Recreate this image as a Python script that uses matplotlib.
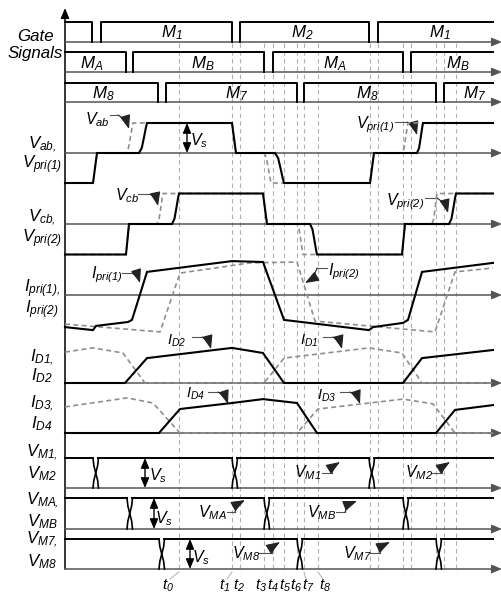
import numpy as np
import matplotlib
matplotlib.use('Agg')
import matplotlib.pyplot as plt

plt.rcParams['font.family'] = ['Liberation Sans', 'DejaVu Sans']
plt.rcParams['mathtext.fontset'] = 'custom'
plt.rcParams['mathtext.it'] = 'Liberation Sans:italic'
plt.rcParams['mathtext.rm'] = 'Liberation Sans:italic'
plt.rcParams['mathtext.default'] = 'it'

# ---------------------------------------------------------------- data
T_END = 428

# gate pulses (on, off); None = still on at the end of the window
GATE_M12 = [(0, 27), (36, 167), (175, 304), (313, None)]
GATE_MAB = [(0, 61), (68, 199), (208, 338), (346, None)]
GATE_M78 = [(0, 93), (101, 232), (239, 371), (379, None)]
GATE_NAMES = {
    'M12': ['$M_1$', '$M_2$', '$M_1$'],
    'MAB': ['$M_A$', '$M_B$', '$M_A$', '$M_B$'],
    'M78': ['$M_8$', '$M_7$', '$M_8$', '$M_7$'],
}

# voltages in units of Vs; third field 'r' = rounded (resonant) edge
V_AB = [(0, -1), (28, -1), (32, 0), (74, 0), (82, 1, 'r'), (167, 1), (171, 0),
        (210, 0), (219, -1, 'r'), (305, -1), (309, 0), (352, 0), (358, 1, 'r'), (428, 1)]
V_PRI1 = [(0, -1), (28, -1), (32, 0), (61, 0), (68, 1, 'r'), (167, 1), (171, 0),
          (199, 0), (206, -1, 'r'), (305, -1), (309, 0), (337, 0), (343, 1, 'r'), (428, 1)]
V_CB = [(0, -1), (61, -1), (64, 0), (107, 0), (114, 1, 'r'), (198, 1), (202, 0),
        (245, 0), (252, -1, 'r'), (337, -1), (340, 0), (384, 0), (391, 1, 'r'), (428, 1)]
V_PRI2 = [(0, -1), (61, -1), (64, 0), (92, 0), (98, 1, 'r'), (198, 1), (202, 0),
          (232, 0), (238, -1, 'r'), (337, -1), (340, 0), (367, 0), (372, 1, 'r'), (428, 1)]

# currents (normalised)
I_PRI1 = [(0, -1.07), (28, -1.17), (31, -1.03), (63, -0.9), (67, -0.83), (82, 0.77),
          (167, 1.13), (198, 1.1), (219, -0.83), (304, -1.17), (308, -1.07),
          (338, -0.93), (343, -0.83), (357, 0.77), (428, 1.07)]
I_PRI2 = [(0, -0.97), (95, -1.23), (115, 0.73), (185, 1.07), (232, 1.1),
          (250, -0.87), (370, -1.23), (390, 0.77), (428, 0.9)]
I_D2 = [(0, 0), (60, 0), (82, 0.83), (167, 1.17), (198, 1.0), (219, 0),
        (338, 0), (357, 0.83), (428, 1.1)]
I_D1 = [(0, 1.03), (28, 1.17), (58, 1.0), (80, 0), (199, 0), (219, 0.83),
        (304, 1.17), (337, 1.0), (357, 0), (428, 0)]
I_D4 = [(0, 0), (94, 0), (115, 0.8), (167, 1.0), (198, 1.13), (232, 1.0),
        (252, 0), (371, 0), (390, 0.77), (428, 0.93)]
I_D3 = [(0, 0.87), (62, 1.17), (88, 1.0), (115, 0), (232, 0), (253, 0.8),
        (338, 1.13), (368, 0.97), (390, 0), (428, 0)]

# switch voltage commutation instants
VM12_SW = [28, 167, 304]
VMAB_SW = [62, 199, 338]
VM78_SW = [94, 232, 371]
SW_WIDTH = 5.5

T_MARKS = [114, 167, 175, 199, 208, 219, 232, 239, 253]
T_NAMES = ['$t_0$', '$t_1$', '$t_2$', '$t_3$', '$t_4$', '$t_5$', '$t_6$', '$t_7$', '$t_8$']
T_MARKS_NEXT = [305, 313, 338, 346, 371, 379, 391]

# shape of a rounded edge (fraction of time, fraction of step)
EDGE_SHAPE = [(0.0, 0.0), (0.35, 0.17), (0.63, 0.53), (0.85, 0.83), (1.0, 1.0)]
X_SHAPE = [(0.0, 0.0), (0.15, 0.25), (0.5, 0.5), (0.85, 0.75), (1.0, 1.0)]

# ---------------------------------------------------------------- layout
ROW = {  # baseline, height of one unit
    'M12': (42, 20), 'MAB': (72, 20), 'M78': (102, 19.5),
    'VAB': (153, 30), 'VCB': (224, 30.5), 'IPRI': (295, 30),
    'ID12': (383, 30), 'ID34': (433, 30),
    'VM12': (488, 30), 'VMAB': (529, 31), 'VM78': (569, 30),
}
SOLID = dict(color='black', lw=1.5, solid_joinstyle='miter', zorder=5)
DASHED = dict(color='#8f8f8f', lw=1.2, ls=(0, (3, 2)), zorder=4)
AXIS_C = '#555555'
FS_ROW = 12.2
FS_NOTE = 11.5
FS_NOTE_SMALL = 10.5

fig = plt.figure(figsize=(5.02, 5.94), dpi=100)
ax = fig.add_axes([0, 0, 1, 1])
ax.set_xlim(-65, 437)
ax.set_ylim(594, 0)
ax.axis('off')


def expand(points):
    ts, vs = [], []
    for p in points:
        if len(p) == 3 and ts:
            t0, v0 = ts[-1], vs[-1]
            for fx, fy in EDGE_SHAPE[1:-1]:
                ts.append(t0 + (p[0] - t0) * fx)
                vs.append(v0 + (p[1] - v0) * fy)
        ts.append(p[0])
        vs.append(p[1])
    return np.array(ts, float), np.array(vs, float)


def wave(row, points, style):
    base, unit = ROW[row]
    t, v = expand(points)
    ax.plot(t, base - unit * v, **style)


def gate(row, pulses):
    base, unit = ROW[row]
    top = base - unit
    for on, off in pulses:
        end = T_END if off is None else off
        xs = [on, on, end] if on > 0 else [on, end]
        ys = [base, top, top] if on > 0 else [top, top]
        if off is not None:
            xs.append(end)
            ys.append(base)
        ax.plot(xs, ys, color='black', lw=1.4, zorder=5)


def switch_row(row, instants):
    base, unit = ROW[row]
    top = base - unit
    starts = [0] + [s + SW_WIDTH for s in instants]
    ends = instants + [T_END]
    for a, b in zip(starts, ends):
        ax.plot([a, b], [top, top], color='black', lw=1.4, zorder=5)
    fx = np.array([p[0] for p in X_SHAPE])
    fy = np.array([p[1] for p in X_SHAPE])
    for s in instants:
        ax.plot(s + SW_WIDTH * fx, top + unit * fy, color='black', lw=1.2, zorder=5)
        ax.plot(s + SW_WIDTH * fx, base - unit * fy, color='black', lw=1.2, zorder=5)


def h_axis(y):
    ax.annotate('', xy=(437, y), xytext=(0, y),
                arrowprops=dict(arrowstyle='-|>,head_length=0.6,head_width=0.25',
                                color=AXIS_C, lw=1.1, shrinkA=0, shrinkB=0), zorder=3)


def leader(text, pos, bend, tip, fs=FS_NOTE):
    ax.text(pos[0], pos[1], text, fontsize=fs, ha='center', va='baseline', zorder=6)
    ax.plot([bend[0][0], bend[1][0]], [bend[0][1], bend[1][1]], color='#555555', lw=0.8)
    ax.annotate('', xy=tip, xytext=bend[1],
                arrowprops=dict(arrowstyle='-|>,head_length=0.85,head_width=0.32',
                                color='#222222', lw=0.8, shrinkA=0, shrinkB=0,
                                connectionstyle='arc3,rad=-0.2'))


def vs_arrow(t, top, bottom, label_x, label_y):
    ax.annotate('', xy=(t, top), xytext=(t, bottom),
                arrowprops=dict(arrowstyle='<|-|>,head_length=0.6,head_width=0.25',
                                color='black', lw=1.0, shrinkA=0, shrinkB=0))
    ax.text(label_x, label_y, '$V_s$', fontsize=FS_NOTE, ha='center', va='baseline')


# time markers
ax.vlines(T_MARKS + T_MARKS_NEXT, 43, 572, colors='#b0b0b0', lw=0.8,
          linestyles=(0, (4, 3)), zorder=1)

# axes
ax.annotate('', xy=(0, 8), xytext=(0, 569),
            arrowprops=dict(arrowstyle='-|>,head_length=0.6,head_width=0.25',
                            color='black', lw=1.1, shrinkA=0, shrinkB=0), zorder=3)
for key in ROW:
    h_axis(ROW[key][0])

# gate signals
for key, pulses in (('M12', GATE_M12), ('MAB', GATE_MAB), ('M78', GATE_M78)):
    gate(key, pulses)
name_pos = {
    'M12': ([107, 237, 375], 37),
    'MAB': ([27, 138, 270, 393], 68),
    'M78': ([38, 172, 302, 410], 98),
}
for key, (xs, y) in name_pos.items():
    for x, n in zip(xs, GATE_NAMES[key]):
        ax.text(x, y, n, fontsize=FS_ROW, ha='center', va='baseline')
ax.text(-30, 41, 'Gate', fontsize=FS_ROW, style='italic', ha='center', va='baseline')
ax.text(-30, 58, 'Signals', fontsize=FS_ROW, style='italic', ha='center', va='baseline')

# voltages and currents
wave('VAB', V_PRI1, DASHED)
wave('VAB', V_AB, SOLID)
wave('VCB', V_PRI2, DASHED)
wave('VCB', V_CB, SOLID)
wave('IPRI', I_PRI2, DASHED)
wave('IPRI', I_PRI1, SOLID)
wave('ID12', I_D1, DASHED)
wave('ID12', I_D2, SOLID)
wave('ID34', I_D3, DASHED)
wave('ID34', I_D4, SOLID)

switch_row('VM12', VM12_SW)
switch_row('VMAB', VMAB_SW)
switch_row('VM78', VM78_SW)

# Vs markers
vs_arrow(122, ROW['VAB'][0] - ROW['VAB'][1], ROW['VAB'][0], 134, 145)
for key, t, lx, ly in (('VM12', 80, 93, 480), ('VMAB', 89, 99, 523), ('VM78', 125, 136, 562)):
    b, u = ROW[key]
    vs_arrow(t, b - u, b, lx, ly)

# row labels (text, baseline)
row_labels = [
    ('$V_{ab,}$', 149), ('$V_{pri(1)}$', 168), ('$V_{cb,}$', 222), ('$V_{pri(2)}$', 242),
    ('$I_{pri(1),}$', 292), ('$I_{pri(2)}$', 313), ('$I_{D1,}$', 362), ('$I_{D2}$', 380),
    ('$I_{D3,}$', 408), ('$I_{D4}$', 428), ('$V_{M1,}$', 457), ('$V_{M2}$', 478),
    ('$V_{MA,}$', 505), ('$V_{MB}$', 526), ('$V_{M7,}$', 544), ('$V_{M8}$', 566),
]
for text, y in row_labels:
    ax.text(-23, y, text, fontsize=FS_ROW, ha='center', va='baseline')

# waveform call-outs
leader('$V_{ab}$', (32, 124), [(45, 115), (53, 115)], (64, 129))
leader('$V_{pri(1)}$', (310, 128), [(330, 122), (342, 122)], (352, 135))
leader('$V_{cb}$', (62, 200), [(73, 194), (85, 194)], (93, 206))
leader('$V_{pri(2)}$', (340, 205), [(360, 198), (372, 198)], (383, 213))
leader('$I_{pri(1)}$', (42, 278), [(57, 273), (67, 273)], (75, 283))
leader('$I_{pri(2)}$', (279, 275), [(262, 268), (252, 268)], (240, 283))
leader('$I_{D2}$', (112, 345), [(127, 337), (137, 337)], (146, 349), FS_NOTE_SMALL)
leader('$I_{D1}$', (244, 345), [(258, 337), (268, 337)], (277, 349), FS_NOTE_SMALL)
leader('$I_{D4}$', (130, 398), [(143, 392), (153, 392)], (163, 404), FS_NOTE_SMALL)
leader('$I_{D3}$', (262, 400), [(275, 392), (285, 392)], (295, 404), FS_NOTE_SMALL)
leader('$V_{M1}$', (243, 477), [(257, 473), (267, 473)], (275, 462))
leader('$V_{M2}$', (354, 477), [(367, 473), (377, 473)], (385, 462))
leader('$V_{MA}$', (147, 517), [(162, 512), (170, 512)], (180, 500))
leader('$V_{MB}$', (257, 517), [(271, 512), (280, 512)], (292, 501))
leader('$V_{M8}$', (181, 558), [(193, 553), (207, 553)], (215, 542))
leader('$V_{M7}$', (292, 558), [(305, 553), (315, 553)], (325, 542))

# time instants
t_label_x = [103, 160, 174, 196, 208, 220, 231, 243, 260]
for t, x, n in zip(T_MARKS, t_label_x, T_NAMES):
    if abs(t - x) > 3:
        ax.plot([t, x + (2 if x < t else -2)], [572, 579], color='#b0b0b0', lw=0.7)
    ax.text(x, 590, n, fontsize=11, ha='center', va='baseline')

fig.savefig('out.png', dpi=100)
